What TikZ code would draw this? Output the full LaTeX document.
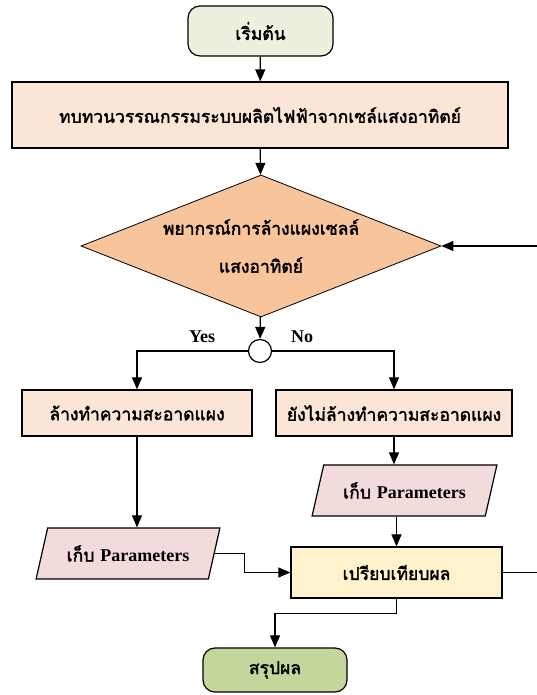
\documentclass[tikz,border=0pt]{standalone}
\usepackage{fontspec}
\setmainfont{Liberation Serif}
\newfontfamily\thaifont[Script=Thai, AutoFakeBold=2]{Loma}
\usetikzlibrary{arrows.meta,positioning,shapes.geometric}

\definecolor{startgreen}{HTML}{EBF1DE}
\definecolor{endgreen}{HTML}{C3D69B}
\definecolor{peach}{HTML}{FBE5D6}
\definecolor{deciorange}{HTML}{F8C49C}
\definecolor{paramrose}{HTML}{F2DCDB}
\definecolor{cmpyellow}{HTML}{FFF2CC}

\newcommand{\engtxt}[1]{{\rmfamily\fontsize{18}{20}\selectfont #1}}

\begin{document}
\begin{tikzpicture}[
    x=1pt, y=1pt,
    >={Triangle[length=12pt,width=10pt]},
    every node/.style={font=\thaifont\bfseries\fontsize{17.5}{38}\selectfont},
    flow/.style={line width=1.2pt, ->},
    termbox/.style={draw, line width=1.2pt, rounded corners=12pt, minimum width=145pt, minimum height=50pt},
    procbox/.style={draw, line width=1.2pt, fill=peach, minimum height=46pt},
    decision/.style={diamond, aspect=2.535, draw, line width=0.8pt, fill=deciorange, minimum width=360pt, minimum height=142pt, inner sep=0pt, align=center},
    iobox/.style={trapezium, trapezium left angle=68, trapezium right angle=112, trapezium stretches=true,
        draw, line width=1.2pt, fill=paramrose, minimum width=184pt, minimum height=51pt},
    joint/.style={circle, draw, line width=1.2pt, fill=white, minimum size=23pt, inner sep=0pt}
]
    \useasboundingbox (0,0) rectangle (536,695);

    \node[termbox, fill=startgreen] (start) at (260.5,664) {เริ่มต้น};
    \node[procbox, minimum width=496pt, minimum height=66pt] (review) at (260,580) {ทบทวนวรรณกรรมระบบผลิตไฟฟ้าจากเซล์แสงอาทิตย์};
    \node[decision] (decide) at (261,449) {พยากรณ์การล้างแผงเซลล์\\แสงอาทิตย์};
    \node[joint] (junc) at (260,344) {};
    \node (yes) at (202,358) {\engtxt{Yes}};
    \node (no) at (302,358) {\engtxt{No}};

    \node[procbox, minimum width=230pt] (clean) at (137,282) {ล้างทำความสะอาดแผง};
    \node[procbox, minimum width=236pt] (noclean) at (394,282) {ยังไม่ล้างทำความสะอาดแผง};
    \node[iobox, minimum width=185pt] (parR) at (404.5,204.5) {เก็บ \engtxt{Parameters}};
    \node[iobox] (parL) at (128,141.5) {เก็บ \engtxt{Parameters}};
    \node[procbox, fill=cmpyellow, minimum width=211pt, minimum height=51pt] (compare) at (396.5,122.5) {เปรียบเทียบผล};
    \node[termbox, fill=endgreen, minimum width=144pt, minimum height=44pt] (finish) at (275,25) {สรุปผล};

    % feedback loop runs along the page edge
    \coordinate (loopA) at (539,122.5);
    \coordinate (loopB) at (539,449);

    \draw[flow] (start) -- (review);
    \draw[flow] (review) -- (decide);
    \draw[flow] (decide) -- (junc);
    \draw[flow] (junc.west) -| (clean.north);
    \draw[flow] (junc.east) -| (noclean.north);
    \draw[flow] (clean.south) -- (clean.south |- parL.north);
    \draw[flow] (noclean.south) -- (noclean.south |- parR.north);
    \draw[flow] (compare.north |- parR.south) -- (compare.north);
    \draw[flow] (parL.east) -- ++(30,0) |- (compare.west);
    \draw[flow] (compare.east) -- (loopA) -- (loopB) -- (decide.east);
    \draw[flow] (compare.south) -- ++(0,-15) -| (finish.north);
\end{tikzpicture}
\end{document}
